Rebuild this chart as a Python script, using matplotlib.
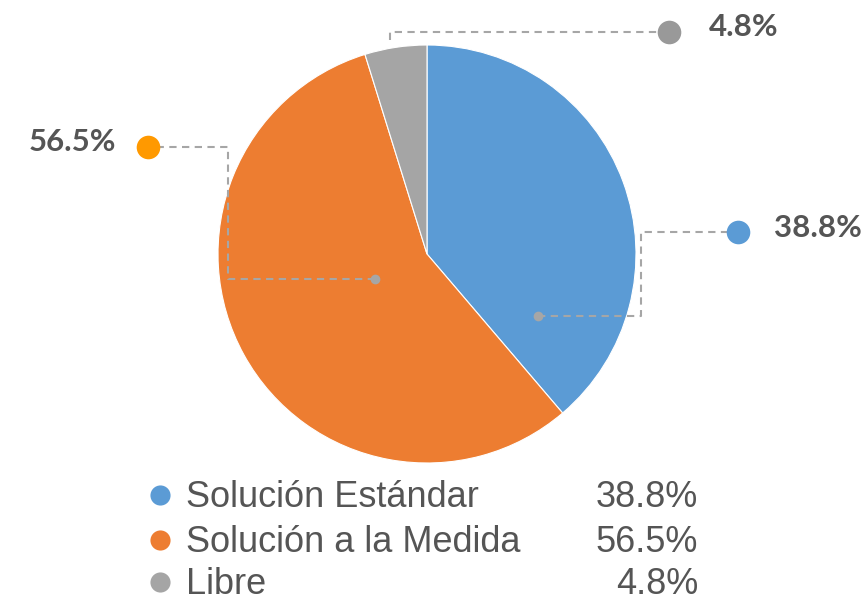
"""Pie chart: tipo de solución, with leader-line labels and a value legend."""
import matplotlib
matplotlib.use("Agg")
import matplotlib.pyplot as plt

categories = ["Solución Estándar", "Solución a la Medida", "Libre"]
shares = [38.8, 56.5, 4.8]
value_labels = ["38.8%", "56.5%", "4.8%"]

wedge_colors = ["#5B9BD5", "#ED7D31", "#A5A5A5"]
dot_colors = ["#5B9BD5", "#FF9900", "#999999"]
TEXT = "#555555"
LEADER = "#A6A6A6"

W, H = 866, 603


def py(y):
    # screen pixel row -> data y (axes spans the figure in pixel units)
    return H - y


fig = plt.figure(figsize=(W / 100, H / 100), dpi=100)
ax = fig.add_axes([0, 0, 1, 1])

ax.pie(shares, colors=wedge_colors, startangle=90, counterclock=False,
       center=(427, py(254)), radius=209,
       wedgeprops=dict(edgecolor="white", linewidth=0.8))
ax.set_xlim(0, W)
ax.set_ylim(0, H)
ax.set_aspect("equal")
ax.axis("off")

dash = dict(color=LEADER, lw=1.5, ls=(0, (3.5, 2.6)), zorder=3)

# leader lines: (path in screen px, inner dot, outer dot, text pos, align)
leaders = [
    ([(538, 316), (641, 316), (641, 232), (738, 232)], (538, 316), (738, 232), (774, 228), "left"),
    ([(375, 279), (228, 279), (228, 147), (148, 147)], (375, 279), (148, 147), (116, 142), "right"),
    ([(390, 40), (390, 32), (669, 32)], None, (669, 32), (709, 27), "left"),
]
for i, (path, inner, outer, tpos, ha) in enumerate(leaders):
    xs = [p[0] for p in path]
    ys = [py(p[1]) for p in path]
    ax.plot(xs, ys, **dash)
    if inner is not None:
        ax.plot(inner[0], py(inner[1]), "o", ms=7, color="#A6A6A6", mew=0, zorder=4)
    ax.plot(outer[0], py(outer[1]), "o", ms=17, color=dot_colors[i], mew=0, zorder=4)
    ax.text(tpos[0], py(tpos[1]), value_labels[i], ha=ha, va="center",
            fontsize=22.5, fontweight="bold", family=["Lato", "DejaVu Sans"], color=TEXT)

# legend rows (baselines in screen px)
rows_base = [507, 552, 594]
for i, name in enumerate(categories):
    yb = py(rows_base[i])
    ax.plot(160, yb + 12, "o", ms=14.5, color=wedge_colors[i], mew=0)
    ax.text(186, yb, name, ha="left", va="baseline", fontsize=26,
            family=["Liberation Sans", "DejaVu Sans"], color=TEXT)
    ax.text(698, yb, value_labels[i], ha="right", va="baseline", fontsize=26,
            family=["Liberation Sans", "DejaVu Sans"], color=TEXT)

fig.savefig("out.png", dpi=100, facecolor="white")
